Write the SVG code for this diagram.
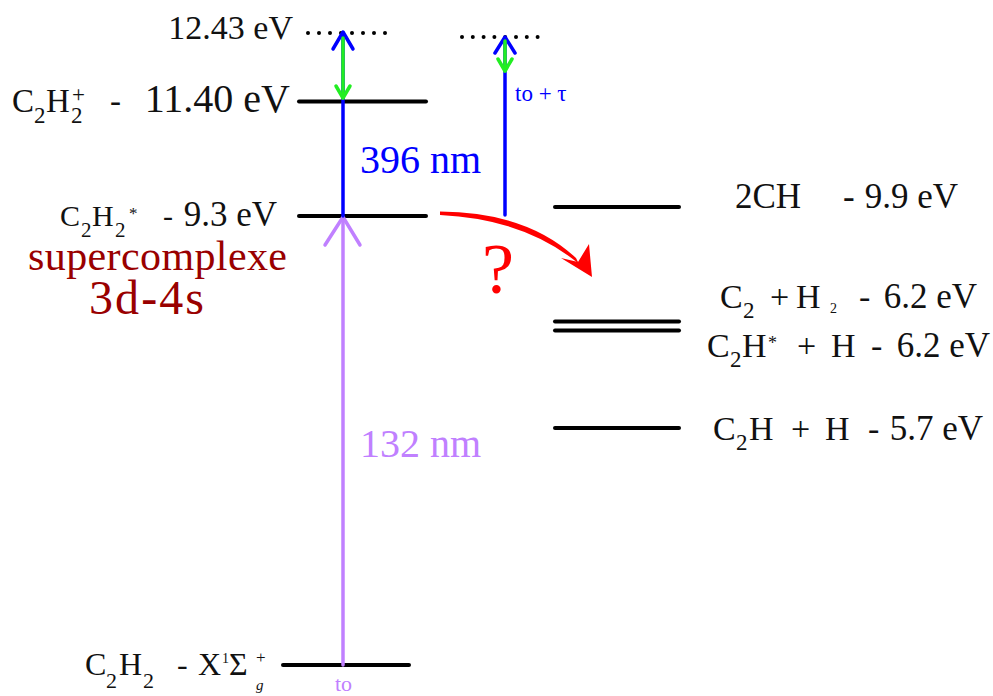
<svg xmlns="http://www.w3.org/2000/svg" width="993" height="696" viewBox="0 0 993 696">
<style>
.t{font-family:"Liberation Serif","Times New Roman",serif;fill:#111}
.lvl{stroke:#000;stroke-width:4;stroke-linecap:round;fill:none}
.dot{fill:#000}
.blue{stroke:#0000ff;stroke-width:3.5;fill:none;stroke-linecap:round;stroke-linejoin:round}
.green{stroke:#22ee22;stroke-width:3.5;fill:none;stroke-linecap:round;stroke-linejoin:round}
.violet{stroke:#c080ff;stroke-width:3.5;fill:none;stroke-linecap:round;stroke-linejoin:round}
</style>
<rect width="993" height="696" fill="#fff"/>

<g id="level-ion-limit">
<g class="dot">
<circle cx="308" cy="33" r="2"/><circle cx="319" cy="33" r="2"/><circle cx="330" cy="33" r="2"/><circle cx="341" cy="33" r="2"/><circle cx="352" cy="33" r="2"/><circle cx="363" cy="33" r="2"/><circle cx="374" cy="33" r="2"/><circle cx="385" cy="33" r="2"/>
</g>
<text class="t" x="293" y="39" font-size="34" text-anchor="end">12.43 eV</text>
</g>

<g id="level-ion-limit-right">
<g class="dot">
<circle cx="462" cy="37" r="2"/><circle cx="472.8" cy="37" r="2"/><circle cx="483.6" cy="37" r="2"/><circle cx="494.4" cy="37" r="2"/><circle cx="505.2" cy="37" r="2"/><circle cx="516" cy="37" r="2"/><circle cx="526.8" cy="37" r="2"/><circle cx="537.6" cy="37" r="2"/>
</g>
</g>

<g id="level-ion">
<line class="lvl" x1="299" y1="101.5" x2="426" y2="101.5"/>
<text class="t" font-size="33" y="112"><tspan x="12">C</tspan><tspan x="34" y="123" font-size="23">2</tspan><tspan x="46" y="112">H</tspan><tspan x="71" y="123" font-size="23">2</tspan><tspan x="110" y="112">-</tspan></text>
<text class="t" x="72" y="102" font-size="23">+</text>
<text class="t" x="290" y="112" font-size="40" text-anchor="end">11.40 eV</text>
</g>

<g id="level-excited">
<line class="lvl" x1="299" y1="216" x2="426" y2="216"/>
<text class="t" font-size="30" y="226"><tspan x="60">C</tspan><tspan x="81" y="237" font-size="21">2</tspan><tspan x="92" y="226">H</tspan><tspan x="115" y="237" font-size="21">2</tspan><tspan x="129" y="219" font-size="17">*</tspan><tspan x="163" y="226">-</tspan></text>
<text class="t" x="277" y="226" font-size="35" text-anchor="end">9.3 eV</text>
<text class="t" x="28" y="270" font-size="42" textLength="259" style="fill:#990000">supercomplexe</text>
<text class="t" x="89" y="314" font-size="48" textLength="115" style="fill:#990000">3d-4s</text>
</g>

<g id="level-ground">
<line class="lvl" x1="283" y1="665" x2="409" y2="665"/>
<text class="t" font-size="32" y="675"><tspan x="85">C</tspan><tspan x="106" y="688" font-size="22">2</tspan><tspan x="119" y="675">H</tspan><tspan x="143" y="688" font-size="22">2</tspan><tspan x="177" y="675">-</tspan><tspan x="198">X</tspan><tspan x="222" y="663" font-size="14">1</tspan><tspan x="229" y="675">Σ</tspan></text>
<text class="t" x="256" y="690" font-size="15" font-style="italic">g</text>
<text class="t" x="256" y="663" font-size="17">+</text>
</g>

<g id="level-2CH">
<line class="lvl" x1="555" y1="207" x2="679" y2="207"/>
<text class="t" font-size="35" y="208"><tspan x="735">2CH</tspan><tspan x="843">-</tspan></text>
<text class="t" x="958" y="208" font-size="35" text-anchor="end">9.9 eV</text>
</g>

<g id="level-C2-H2">
<line class="lvl" x1="555" y1="321.5" x2="679" y2="321.5"/>
<text class="t" font-size="34" y="308"><tspan x="720">C</tspan><tspan x="743" y="318" font-size="23">2</tspan><tspan x="770" y="308">+</tspan><tspan x="796">H</tspan><tspan x="830" y="313" font-size="14">2</tspan><tspan x="859" y="308">-</tspan></text>
<text class="t" x="977" y="308" font-size="35" text-anchor="end">6.2 eV</text>
</g>

<g id="level-C2Hstar-H">
<line class="lvl" x1="555" y1="330.5" x2="679" y2="330.5"/>
<text class="t" font-size="34" y="357"><tspan x="707">C</tspan><tspan x="730" y="367" font-size="23">2</tspan><tspan x="742" y="357">H</tspan><tspan x="768" y="349" font-size="18">*</tspan><tspan x="797" y="357">+</tspan><tspan x="831">H</tspan><tspan x="871">-</tspan></text>
<text class="t" x="990" y="357" font-size="35" text-anchor="end">6.2 eV</text>
</g>

<g id="level-C2H-H">
<line class="lvl" x1="555" y1="428" x2="679" y2="428"/>
<text class="t" font-size="34" y="440"><tspan x="713">C</tspan><tspan x="736" y="450" font-size="23">2</tspan><tspan x="749" y="440">H</tspan><tspan x="791">+</tspan><tspan x="825">H</tspan><tspan x="868">-</tspan></text>
<text class="t" x="983" y="440" font-size="35" text-anchor="end">5.7 eV</text>
</g>

<g id="connectors">
<line class="violet" x1="343" y1="665" x2="343" y2="218"/>
<polyline class="violet" points="325,245 343,217 360,245"/>
<line class="blue" x1="343" y1="216" x2="343" y2="33"/>
<polyline class="blue" points="333,49 343,32 353,49"/>
<line class="green" x1="343" y1="38" x2="343" y2="98"/>
<polyline class="green" points="336,86 343,98 350,86"/>
<line class="blue" x1="505" y1="215" x2="505" y2="38"/>
<polyline class="blue" points="495,53 505,37 515,53"/>
<line class="green" x1="505" y1="41" x2="505" y2="71"/>
<polyline class="green" points="498,59 505,71 512,59"/>
<path d="M440,211.5 Q527,212 576,258 L579,264 Q525,219 440,215 Z" fill="#ff0000"/>
<path d="M592,277 L561,258 L578,262 L589,244 Z" fill="#ff0000"/>
</g>

<g id="labels">
<text x="360" y="173" font-size="40" style="font-family:'Liberation Serif',serif;fill:#0000ff">396 nm</text>
<text x="360" y="457" font-size="40" style="font-family:'Liberation Serif',serif;fill:#c080ff">132 nm</text>
<text x="515" y="101" font-size="23" style="font-family:'Liberation Serif',serif;fill:#0000ff">to + τ</text>
<text x="335" y="691" font-size="22" style="font-family:'Liberation Serif',serif;fill:#c080ff">to</text>
<text x="482" y="293" font-size="72" style="font-family:'Liberation Serif',serif;fill:#ff0000">?</text>
</g>
</svg>
